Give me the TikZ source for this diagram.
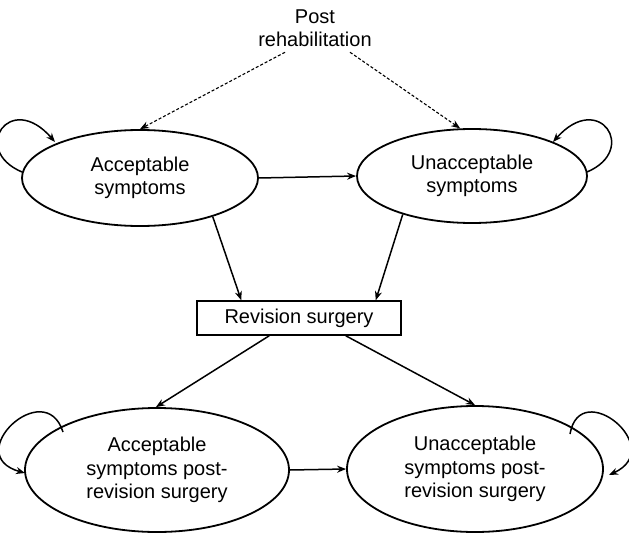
\documentclass[tikz,border=0pt]{standalone}
\usepackage{fontspec}
\setmainfont{Liberation Sans}
\usetikzlibrary{arrows.meta,shapes.geometric,calc}
\begin{document}
\begin{tikzpicture}[x=1pt,y=-1pt,
  state/.style={draw,ellipse,line width=1.8pt,inner sep=0pt,align=center,font=\fontsize{20}{23.5}\selectfont},
  conn/.style={-{Stealth[length=9pt,width=7pt]},line width=1.5pt},
  dconn/.style={conn,dash pattern=on 3pt off 2pt,line width=1.1pt}]
\useasboundingbox (0,0) rectangle (629,535);
\node[font=\fontsize{20}{23.5}\selectfont,align=center] (post) at (315,28) {Post\\rehabilitation};
\node[state,minimum width=236pt,minimum height=96pt] (acc) at (140,178) {Acceptable\\symptoms};
\node[state,minimum width=230pt,minimum height=94pt] (unacc) at (472,176) {Unacceptable\\symptoms};
\node[draw,line width=1.5pt,minimum width=204pt,minimum height=34pt,inner sep=0pt,font=\fontsize{20}{24}\selectfont] (rev) at (299,318) {Revision surgery};
\node[state,minimum width=264pt,minimum height=124pt] (accp) at (157,470) {Acceptable\\symptoms post-\\revision surgery};
\node[state,minimum width=256pt,minimum height=126pt] (unaccp) at (475,469) {Unacceptable\\symptoms post-\\revision surgery};
\coordinate (pl) at ($(post.south)+(-30,2)$);
\coordinate (pr) at ($(post.south)+(35,2)$);
% dashed
\draw[dconn] (pl) -- (acc.north);
\draw[dconn] (pr) -- (unacc.104);
% solid
\draw[conn] (acc.east) -- (unacc.west);
\draw[conn] (acc.-28) -- ($(rev.north west)+(45,0)$);
\draw[conn] (unacc.-151) -- ($(rev.north east)+(-26,0)$);
\draw[conn] ($(rev.south west)+(73,0)$) -- (accp.91);
\draw[conn] ($(rev.south east)+(-56,0)$) -- (unaccp.north);
\draw[conn] (accp.east) -- (unaccp.west);
% loops
\coordinate (l1a) at (22,172); \coordinate (l1b) at (55,142);
\coordinate (l2a) at (587,172); \coordinate (l2b) at (553,142);
\coordinate (l3a) at (63,432); \coordinate (l3b) at (25,473);
\coordinate (l4a) at (570,434); \coordinate (l4b) at (609,475);
\draw[conn] (l1a) .. controls (-30,150) and (10,90) .. (l1b);
\draw[conn] (l2a) .. controls (639,150) and (599,90) .. (l2b);
\draw[conn] (l3a) .. controls (45,375) and (-40,455) .. (l3b);
\draw[conn] (l4a) .. controls (580,376) and (668,448) .. (l4b);
\end{tikzpicture}
\end{document}
